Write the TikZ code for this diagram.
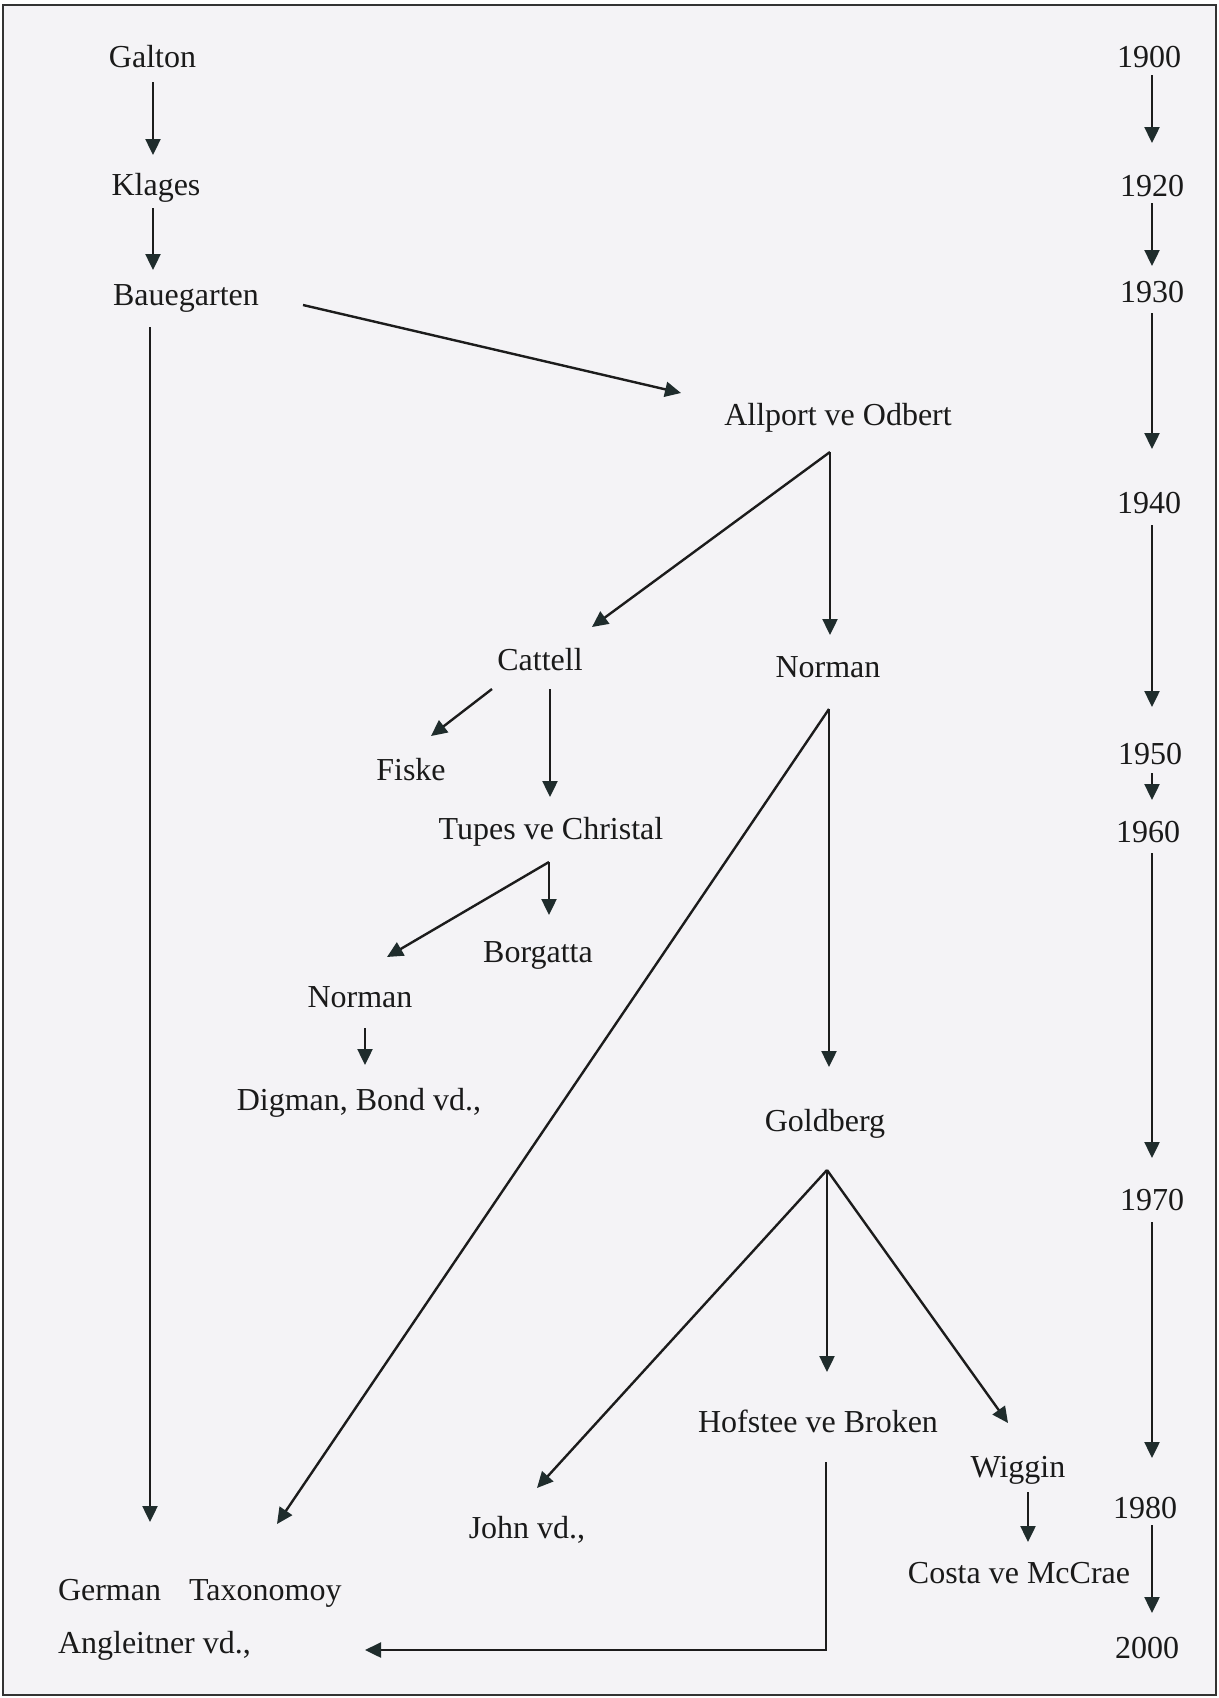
\documentclass[tikz,border=0pt]{standalone}
\usepackage{fontspec}
\setmainfont{Liberation Serif}
\usetikzlibrary{arrows.meta}
\definecolor{bg}{HTML}{F4F3F6}
\definecolor{txt}{HTML}{1A1A1A}
\definecolor{ln}{HTML}{1C1C1C}
\definecolor{hd}{HTML}{1F2C2C}
\definecolor{frm}{HTML}{333333}
\tikzset{
  lbl/.style={anchor=base, inner sep=0pt, outer sep=0pt, text=txt, font=\fontsize{16}{19}\selectfont},
  lblw/.style={lbl, anchor=base west},
  arr/.style={draw=ln, line width=1.2pt, -{Triangle[length=8pt,width=7.5pt,color=hd]}},
}
\begin{document}
\begin{tikzpicture}[x=0.5pt,y=-0.5pt]
\useasboundingbox (0,0) rectangle (1219,1698);
\fill[white] (0,0) rectangle (1219,1698);
\draw[frm, line width=1pt, fill=bg] (3,5) rectangle (1216,1695);

% names
\node[lbl] (galton)   at (152.5,67)  {Galton};
\node[lbl] (klages)   at (156,195)   {Klages};
\node[lbl] (baue)     at (186,305)   {Bauegarten};
\node[lbl] (allport)  at (838,425)   {Allport ve Odbert};
\node[lbl] (cattell)  at (540,670)   {Cattell};
\node[lbl] (normanR)  at (828,677)   {Norman};
\node[lbl] (fiske)    at (411,780)   {Fiske};
\node[lbl] (tupes)    at (551,839)   {Tupes ve Christal};
\node[lbl] (borgatta) at (538,962)   {Borgatta};
\node[lbl] (normanL)  at (360,1007)  {Norman};
\node[lbl] (digman)   at (359,1110)  {Digman, Bond vd.,};
\node[lbl] (goldberg) at (825,1131)  {Goldberg};
\node[lbl] (hofstee)  at (818,1432)  {Hofstee ve Broken};
\node[lbl] (wiggin)   at (1018,1477) {Wiggin};
\node[lbl] (costa)    at (1019,1583) {Costa ve McCrae};
\node[lbl] (john)     at (527,1538)  {John vd.,};
\node[lblw] (german)  at (58,1600)   {German\hspace{14pt}Taxonomoy};
\node[lblw] (angle)   at (58,1653)   {Angleitner vd.,};

% years
\node[lbl] (y1900) at (1149,67)   {1900};
\node[lbl] (y1920) at (1152,196)  {1920};
\node[lbl] (y1930) at (1152,302)  {1930};
\node[lbl] (y1940) at (1149,513)  {1940};
\node[lbl] (y1950) at (1150,764)  {1950};
\node[lbl] (y1960) at (1148,842)  {1960};
\node[lbl] (y1970) at (1152,1210) {1970};
\node[lbl] (y1980) at (1145,1518) {1980};
\node[lbl] (y2000) at (1147,1658) {2000};

% name connectors
\draw[arr] ([shift={(0.5,15)}]galton.base) -- ([shift={(-3,-40)}]klages.base);
\draw[arr] ([shift={(-3,13)}]klages.base) -- ([shift={(-33,-35)}]baue.base);
\draw[arr] ([shift={(117,0)}]baue.base) -- ([shift={(-157,-32)}]allport.base);
\draw[arr] ([shift={(-36,22)}]baue.base) -- ([shift={(92,-78)}]german.base west);
\draw[arr] ([shift={(-8,27)}]allport.base) -- ([shift={(52,-43)}]cattell.base);
\draw[arr] ([shift={(-8,27)}]allport.base) -- ([shift={(2,-42)}]normanR.base);
\draw[arr] ([shift={(-48,19)}]cattell.base) -- ([shift={(20,-44)}]fiske.base);
\draw[arr] ([shift={(10,19)}]cattell.base) -- ([shift={(-1,-42)}]tupes.base);
\draw[arr] ([shift={(1,32)}]normanR.base) -- ([shift={(219,-76)}]german.base west);
\draw[arr] ([shift={(1,32)}]normanR.base) -- ([shift={(4,-64)}]goldberg.base);
\draw[arr] ([shift={(-2,23)}]tupes.base) -- ([shift={(27,-50)}]normanL.base);
\draw[arr] ([shift={(-2,23)}]tupes.base) -- ([shift={(11,-47)}]borgatta.base);
\draw[arr] ([shift={(5,21)}]normanL.base) -- ([shift={(6,-45)}]digman.base);
\draw[arr] ([shift={(2,39)}]goldberg.base) -- ([shift={(10,-50)}]john.base);
\draw[arr] ([shift={(2,39)}]goldberg.base) -- ([shift={(9,-60)}]hofstee.base);
\draw[arr] ([shift={(2,39)}]goldberg.base) -- ([shift={(-10,-54)}]wiggin.base);
\draw[arr] ([shift={(10,15)}]wiggin.base) -- ([shift={(9,-41)}]costa.base);
\draw[arr] ([shift={(8,30)}]hofstee.base) |- ([shift={(307,-3)}]angle.base west);

% timeline connectors
\draw[arr] ([shift={(3,8)}]y1900.base) -- ([shift={(0,-53)}]y1920.base);
\draw[arr] ([shift={(0,7)}]y1920.base) -- ([shift={(0,-36)}]y1930.base);
\draw[arr] ([shift={(0,11)}]y1930.base) -- ([shift={(3,-64)}]y1940.base);
\draw[arr] ([shift={(3,12)}]y1940.base) -- ([shift={(2,-57)}]y1950.base);
\draw[arr] ([shift={(2,9)}]y1950.base) -- ([shift={(4,-42)}]y1960.base);
\draw[arr] ([shift={(4,11)}]y1960.base) -- ([shift={(0,-52)}]y1970.base);
\draw[arr] ([shift={(0,12)}]y1970.base) -- ([shift={(7,-60)}]y1980.base);
\draw[arr] ([shift={(7,7)}]y1980.base) -- ([shift={(5,-45)}]y2000.base);
\end{tikzpicture}
\end{document}
